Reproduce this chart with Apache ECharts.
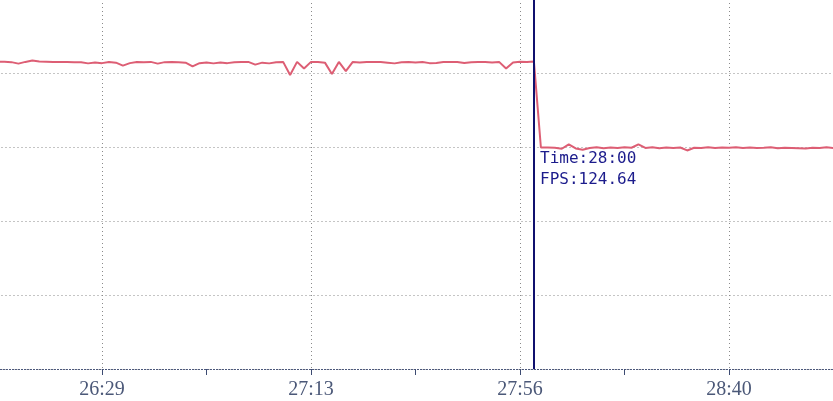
<!DOCTYPE html>
<html>
<head>
<meta charset="utf-8">
<style>
html,body{margin:0;padding:0;background:#fff;}
#chart{width:833px;height:401px;}
</style>
<script src="https://cdn.jsdelivr.net/npm/echarts@6/dist/echarts.min.js"></script>
</head>
<body>
<div id="chart"></div>
<script>
var times = [
'26:07','26:08','26:10','26:11','26:13','26:14','26:16','26:17','26:19','26:20',
'26:22','26:23','26:25','26:26','26:28','26:29','26:30','26:32','26:33','26:35',
'26:36','26:38','26:39','26:41','26:42','26:44','26:45','26:47','26:48','26:50',
'26:51','26:53','26:54','26:56','26:57','26:59','27:00','27:02','27:03','27:05',
'27:06','27:08','27:09','27:11','27:12','27:13','27:14','27:16','27:17','27:19',
'27:20','27:22','27:23','27:25','27:26','27:28','27:29','27:31','27:32','27:34',
'27:35','27:37','27:38','27:40','27:41','27:43','27:44','27:46','27:47','27:49',
'27:50','27:52','27:53','27:54','27:55','27:56','27:58','28:00','28:01','28:03',
'28:04','28:06','28:07','28:09','28:10','28:12','28:13','28:15','28:16','28:18',
'28:19','28:21','28:22','28:24','28:25','28:27','28:28','28:30','28:31','28:33',
'28:34','28:36','28:37','28:38','28:39','28:40','28:41','28:43','28:44','28:46',
'28:47','28:49','28:50','28:52','28:53','28:55','28:56','28:58','28:59','29:01',
'29:02'
];
var fps = [
124.5,124.6,124.4,123.8,124.5,125.1,124.7,124.6,124.5,124.5,
124.5,124.4,124.4,123.9,124.3,124.0,124.5,124.2,123.0,124.0,
124.5,124.4,124.5,123.8,124.4,124.5,124.4,124.2,122.7,124.0,
124.3,123.9,124.3,124.0,124.4,124.5,124.5,123.4,124.2,123.9,
124.4,124.5,119.2,124.5,121.8,124.5,124.5,124.2,119.6,124.5,
120.8,124.5,124.3,124.5,124.5,124.5,124.2,123.9,124.4,124.5,
124.3,124.5,124.0,124.1,124.5,124.5,124.5,124.1,124.4,124.5,
124.5,124.3,124.5,121.8,124.3,124.6,124.5,124.64,89.8,89.8,
89.7,89.3,91.1,89.4,88.9,89.6,89.9,89.5,89.8,89.6,
89.9,89.7,91.1,89.6,89.9,89.5,89.8,89.6,89.8,88.6,
89.7,89.6,89.9,89.6,89.8,89.7,89.9,89.6,89.8,89.6,
89.7,89.9,89.5,89.7,89.6,89.5,89.4,89.7,89.6,89.9,
89.6
];
var cursorIndex = 77;
var yMin = 0, yMax = 150, yStep = 30;

var chart = echarts.init(document.getElementById('chart'), null, {renderer: 'canvas'});
var labelFn = function (idx) { return idx % 30 === 15; };
chart.setOption({
  animation: false,
  grid: {left: -2.5, right: -0.5, top: -1, bottom: 32, containLabel: false, outerBoundsMode: 'none'},
  tooltip: {
    trigger: 'axis',
    triggerOn: 'none',
    alwaysShowContent: true,
    transitionDuration: 0,
    backgroundColor: 'transparent',
    borderWidth: 0,
    padding: 0,
    extraCssText: 'box-shadow:none;line-height:21px;',
    textStyle: {color: '#1c1c8c', fontFamily: 'DejaVu Sans Mono', fontSize: 16},
    position: function () { return [540, 147]; },
    formatter: function (params) {
      var i = params[0].dataIndex;
      return 'Time:' + times[i] + '<br/>FPS:' + fps[i].toFixed(2);
    },
    axisPointer: {
      type: 'line',
      animation: false,
      lineStyle: {color: '#10106e', width: 2, type: 'solid'},
      label: {show: false}
    }
  },
  xAxis: {
    type: 'category',
    boundaryGap: false,
    data: times,
    axisLine: {show: true, lineStyle: {color: '#3d4b72', type: [1, 2], width: 1}},
    axisTick: {show: true, interval: 14, length: 6, lineStyle: {color: '#3d4b72'}},
    axisLabel: {interval: labelFn, color: '#4b5878', fontFamily: 'Liberation Serif', fontSize: 20, margin: 11},
    splitLine: {show: true, interval: labelFn, lineStyle: {color: '#8a8a8a', type: [1, 3]}}
  },
  yAxis: {
    type: 'value',
    min: yMin, max: yMax, interval: yStep,
    axisLine: {show: false}, axisTick: {show: false}, axisLabel: {show: false},
    splitLine: {show: true, lineStyle: {color: '#8a8a8a', type: [1, 3]}}
  },
  series: [{
    type: 'line',
    data: fps,
    showSymbol: false,
    symbol: 'none',
    lineStyle: {color: '#c9566a', width: 2},
    itemStyle: {color: '#c9566a'}
  }]
});
chart.dispatchAction({type: 'showTip', seriesIndex: 0, dataIndex: cursorIndex});
</script>
</body>
</html>
